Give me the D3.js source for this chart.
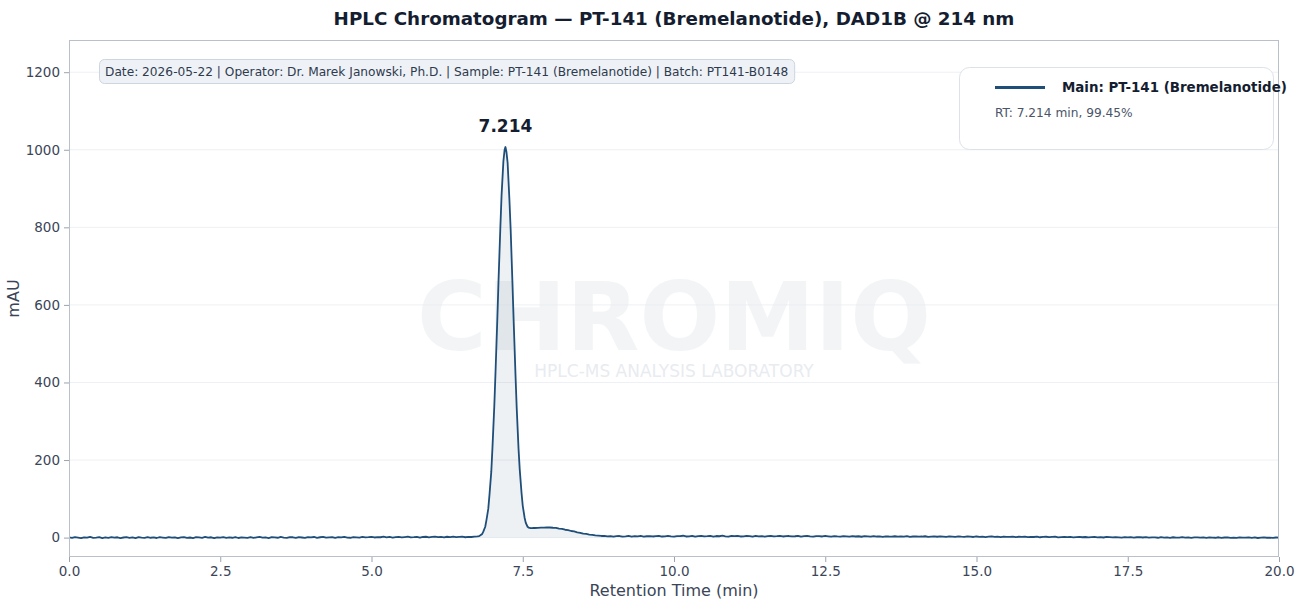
<!DOCTYPE html>
<html><head><meta charset="utf-8">
<script src="https://cdn.jsdelivr.net/npm/d3@7/dist/d3.min.js"></script>
<style>
body{margin:0;background:#fff;}
svg{display:block;font-family:"DejaVu Sans",sans-serif;}
</style></head>
<body>
<svg id="chart" width="1304" height="601"></svg>
<script>
// ---------- DATA ----------
const chartTitle = "HPLC Chromatogram \u2014 PT-141 (Bremelanotide), DAD1B @ 214 nm";
const infoText = "Date: 2026-05-22 | Operator: Dr. Marek Janowski, Ph.D. | Sample: PT-141 (Bremelanotide) | Batch: PT141-B0148";
const legendName = "Main: PT-141 (Bremelanotide)";
const legendDetail = "RT: 7.214 min, 99.45%";
const peakLabel = "7.214";
const peakRT = 7.214;
const peakHeight = 1007;
const xTicks = [0, 2.5, 5, 7.5, 10, 12.5, 15, 17.5, 20];
const yTicks = [0, 200, 400, 600, 800, 1000, 1200];
const xDomain = [0, 20];
const yDomain = [-50, 1283];
const fillRange = [6.6, 9.0];

// baseline before the peak: t = 0.00 ... 6.70, step 0.05 (mAU)
const preStart = 0, preStep = 0.05;
const preValues = [
 0.6,-0.9,1.3,0.2,-1.4,0.8,-0.3,1.6,-0.7,0.1,1.1,-1.2,0.4,-0.5,1.4,-0.2,0.9,-1.1,0.3,1.0,
 -0.6,0.7,-1.3,1.2,0.0,-0.8,1.5,-0.4,0.6,-1.0,1.1,0.2,-0.9,1.3,-0.3,0.8,-1.2,0.5,1.4,-0.6,
 0.3,-1.1,1.0,0.4,-0.7,1.6,-0.2,0.9,-1.3,0.7,0.1,1.2,-0.8,0.5,-0.4,1.5,-1.0,0.6,0.2,-0.5,
 1.3,-0.9,0.8,1.7,-0.3,0.4,-1.2,1.1,0.6,-0.4,1.8,0.0,-0.7,1.2,0.9,-0.6,1.4,0.3,-0.8,1.0,
 0.5,1.6,-0.5,0.9,1.9,-0.2,0.7,1.3,-0.6,1.1,0.4,2.0,0.1,-0.4,1.5,0.8,-0.1,1.7,0.6,1.2,
 2.1,0.3,1.4,0.9,2.3,0.5,1.8,-0.1,1.2,2.0,0.7,1.5,2.4,0.6,1.1,1.9,0.2,1.6,2.2,0.8,
 1.7,2.5,1.0,1.9,0.6,2.2,1.4,2.6,1.1,1.8,2.3,0.9,2.0,1.6,2.4
];
// main peak region (min, mAU)
const peakTimes = [6.75,6.78,6.80,6.83,6.85,6.88,6.90,6.93,6.95,6.98,7.00,7.03,7.05,7.08,7.10,7.13,7.15,7.18,7.20,7.214,
 7.23,7.25,7.28,7.30,7.33,7.35,7.38,7.40,7.43,7.45,7.48,7.50,7.53,7.55,7.58,7.60,7.63,7.65,7.68,7.70];
const peakValues = [3.2,4.0,6.0,9.5,16,28,45,74,110,170,234,340,427,565,665,800,883,970,1000,1007,
 995,966,870,795,655,558,420,335,230,176,115,82,52,38,28,25.5,24.2,24.6,25.1,24.8];
// shoulder and baseline after the peak: t = 7.75 ... 20.00, step 0.05 (mAU)
const postStart = 7.75, postStep = 0.05;
const postValues = [
 25.0,25.9,25.7,26.6,26.1,25.4,24.9,23.2,22.4,20.3,19.4,17.0,15.9,13.6,12.4,10.2,9.4,7.6,7.0,5.5,
 5.3,4.2,4.5,3.4,3.9,2.8,3.6,4.1,2.7,3.3,4.4,2.5,3.8,3.0,4.2,2.6,3.5,4.0,2.9,3.7,
 4.3,2.8,3.4,4.6,3.1,2.4,4.0,3.6,4.8,2.9,3.3,4.5,2.7,3.9,4.7,3.0,3.6,4.4,2.8,4.1,
 3.5,4.9,3.2,2.6,4.3,3.8,4.6,2.9,3.4,4.2,3.7,2.8,4.5,3.3,4.0,2.7,3.9,4.6,3.1,3.6,
 4.4,2.9,3.8,4.1,3.0,3.5,4.7,2.8,3.6,4.3,3.2,2.6,4.0,3.7,2.9,4.2,3.4,2.7,3.9,3.1,
 2.6,3.8,3.3,2.4,3.9,2.9,3.5,2.2,3.6,3.0,2.5,3.7,2.8,3.3,2.1,3.4,2.9,2.6,3.5,2.3,
 3.1,2.5,3.6,2.0,2.9,3.3,2.4,2.8,3.5,1.9,2.7,3.2,2.2,3.4,2.6,1.8,3.0,2.5,2.1,3.3,
 2.4,1.8,3.0,2.6,1.6,2.9,2.1,2.7,1.5,2.5,3.0,1.9,2.3,1.4,2.8,2.0,1.7,2.6,1.3,2.2,
 1.8,2.5,1.2,2.1,1.6,2.4,0.9,1.9,2.2,1.1,1.7,2.3,0.8,1.5,2.0,1.0,1.8,0.7,1.4,2.1,
 0.9,1.6,0.5,1.3,1.9,0.6,1.2,0.3,1.7,1.0,0.4,1.5,0.8,0.2,1.4,0.7,1.1,-0.1,0.9,1.3,
 0.3,1.0,-0.3,0.8,0.5,-0.4,1.2,0.1,0.6,-0.5,0.9,0.2,-0.2,1.1,0.0,0.7,-0.6,0.4,0.8,-0.3,
 0.5,-0.7,0.6,0.1,-0.4,0.9,-0.8,0.3,0.7,-0.5,0.2,-0.9,0.6,0.0,-0.3,0.8,-0.6,0.4,-1.0,0.1,
 0.5,-0.4,0.2,-0.8,0.3,-0.2
];

// ---------- build series ----------
const series = [];
preValues.forEach((v,i)=>series.push({t: +(preStart+i*preStep).toFixed(3), v}));
peakTimes.forEach((t,i)=>series.push({t, v: peakValues[i]}));
postValues.forEach((v,i)=>series.push({t: +(postStart+i*postStep).toFixed(3), v}));

// ---------- layout ----------
const W = 1304, H = 601;
const m = {left: 69, right: 25, top: 40, bottom: 44};
const pw = W - m.left - m.right, ph = H - m.top - m.bottom;
const svg = d3.select("#chart");
const x = d3.scaleLinear().domain(xDomain).range([m.left, m.left + pw]);
const y = d3.scaleLinear().domain(yDomain).range([m.top + ph, m.top]);
const lineColor = "#1f4e79";
const textColor = "#3b4558";

// grid
svg.append("g").selectAll("line").data(yTicks).join("line")
  .attr("x1", m.left).attr("x2", m.left + pw)
  .attr("y1", d=>y(d)).attr("y2", d=>y(d))
  .attr("stroke", "#edf0f4").attr("stroke-width", 1);

// watermark
const cx = m.left + pw/2;
svg.append("text").attr("x", cx).attr("y", 350).attr("text-anchor","middle")
  .attr("font-size", 95).attr("font-weight","bold").attr("fill","#e9ecf0").attr("fill-opacity",0.6)
  .text("CHROMIQ");
svg.append("text").attr("x", cx).attr("y", 377).attr("text-anchor","middle")
  .attr("font-size", 17).attr("fill","#e2e6ec").attr("fill-opacity",0.8)
  .text("HPLC-MS ANALYSIS LABORATORY");

// clip
svg.append("clipPath").attr("id","plotclip").append("rect")
  .attr("x", m.left).attr("y", m.top).attr("width", pw).attr("height", ph);
const plot = svg.append("g").attr("clip-path","url(#plotclip)");

// fill under peak
const fillData = series.filter(d=>d.t>=fillRange[0] && d.t<=fillRange[1]);
plot.append("path").datum(fillData)
  .attr("d", d3.area().x(d=>x(d.t)).y0(y(0)).y1(d=>y(d.v)))
  .attr("fill", lineColor).attr("fill-opacity", 0.08);

// line
plot.append("path").datum(series)
  .attr("d", d3.line().x(d=>x(d.t)).y(d=>y(d.v)))
  .attr("fill","none").attr("stroke", lineColor).attr("stroke-width", 1.8)
  .attr("stroke-linejoin","round");

// axes
const xAxis = svg.append("g").attr("transform", `translate(0,${m.top+ph})`)
  .call(d3.axisBottom(x).tickValues(xTicks).tickFormat(d3.format(".1f")).tickSize(5).tickPadding(4));
const yAxis = svg.append("g").attr("transform", `translate(${m.left},0)`)
  .call(d3.axisLeft(y).tickValues(yTicks).tickFormat(d3.format("d")).tickSize(5).tickPadding(4));
[xAxis, yAxis].forEach(g=>{
  g.select(".domain").remove();
  g.selectAll(".tick line").attr("stroke","#9aa3ae");
  g.selectAll(".tick text").attr("fill", textColor).attr("font-size", 13.5)
    .attr("font-family","DejaVu Sans");
});
// frame
svg.append("rect").attr("x", m.left+0.5).attr("y", m.top+0.5).attr("width", pw-1).attr("height", ph-1)
  .attr("fill","none").attr("stroke","#b9c0c9").attr("stroke-width",1);

// axis labels
svg.append("text").attr("x", cx).attr("y", 596).attr("text-anchor","middle")
  .attr("font-size", 16).attr("fill", textColor).text("Retention Time (min)");
svg.append("text").attr("transform", `translate(19,${m.top+ph/2}) rotate(-90)`).attr("text-anchor","middle")
  .attr("font-size", 16).attr("fill", textColor).text("mAU");

// title
svg.append("text").attr("x", cx).attr("y", 25).attr("text-anchor","middle")
  .attr("font-size", 18.3).attr("font-weight","bold").attr("fill","#151d30").text(chartTitle);

// peak label
svg.append("text").attr("x", x(peakRT)).attr("y", y(peakHeight) - 15).attr("text-anchor","middle")
  .attr("font-size", 17).attr("font-weight","bold").attr("fill","#151d30").text(peakLabel);

// info box
const info = svg.append("g");
const infoT = info.append("text").attr("x", 105).attr("y", 76).attr("font-size", 12.2)
  .attr("fill","#2f3a4d").text(infoText);
const bb = infoT.node().getBBox();
info.insert("rect","text").attr("x", 99.5).attr("y", 59.5).attr("width", bb.width + 12).attr("height", 24)
  .attr("rx", 5).attr("fill","#eef2f7").attr("stroke","#ccd5e0").attr("stroke-width",1);

// legend
const lg = svg.append("g");
lg.append("rect").attr("x", 959.5).attr("y", 67.5).attr("width", 314).attr("height", 82)
  .attr("rx", 10).attr("fill","#fff").attr("fill-opacity",0.95).attr("stroke","#dde2e8").attr("stroke-width",1);
lg.append("line").attr("x1", 995).attr("x2", 1045).attr("y1", 87.5).attr("y2", 87.5)
  .attr("stroke", lineColor).attr("stroke-width", 3.2);
lg.append("text").attr("x", 1062).attr("y", 92).attr("font-size", 13.4).attr("font-weight","bold")
  .attr("fill","#151d30").text(legendName);
lg.append("text").attr("x", 995).attr("y", 117).attr("font-size", 12.2)
  .attr("fill","#4a5568").text(legendDetail);
</script>
</body></html>
